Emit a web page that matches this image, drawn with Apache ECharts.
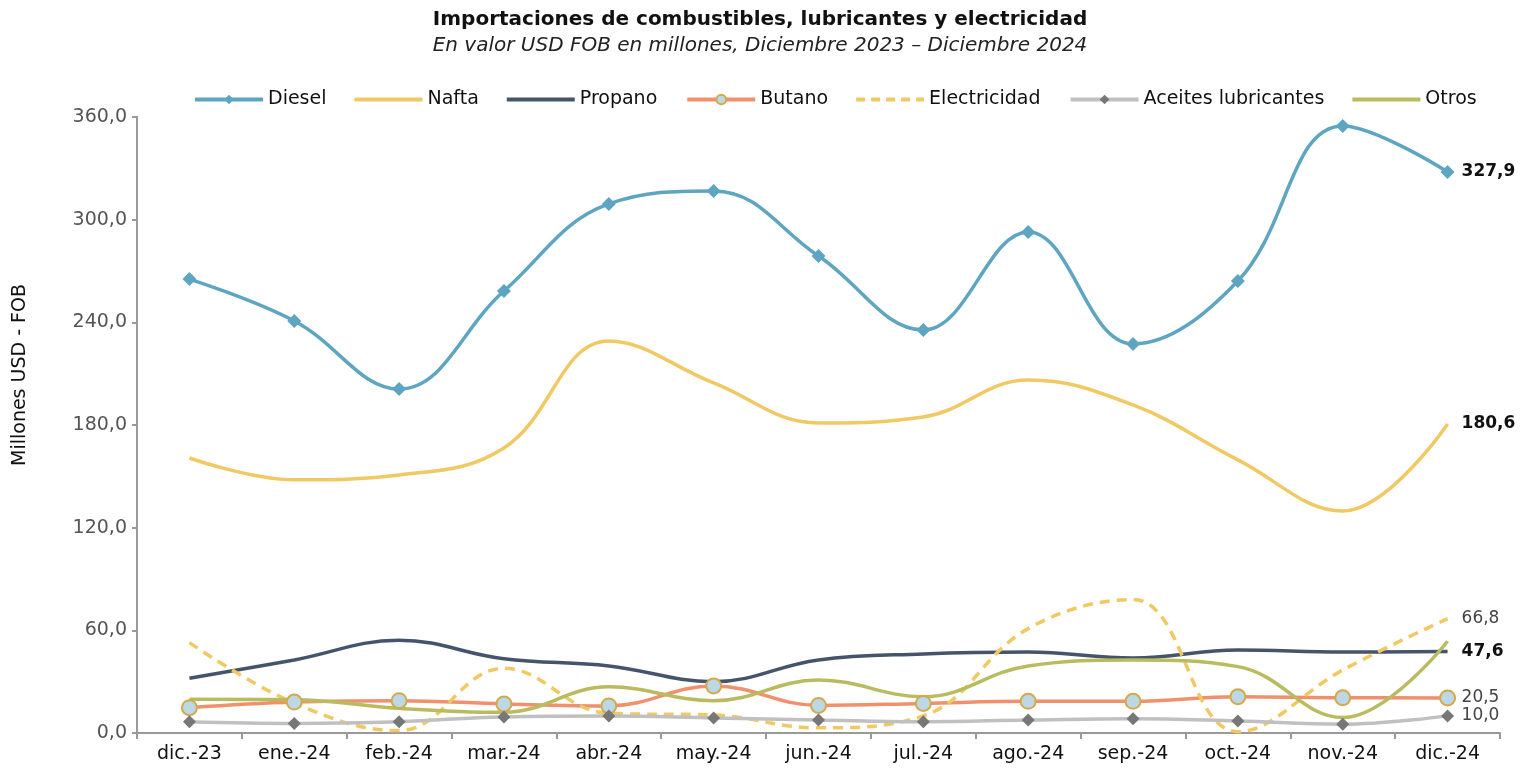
<!DOCTYPE html>
<html>
<head>
<meta charset="utf-8">
<script src="https://cdn.jsdelivr.net/npm/echarts@6/dist/echarts.min.js"></script>
<style>
	html, body { margin: 0; padding: 0; background: #fff; }
	#chart { width: 1520px; height: 768px; }
</style>
</head>
<body>
<div id="chart"></div>
<script>
	// datos (millones USD FOB)
	var meses = ['dic.-23', 'ene.-24', 'feb.-24', 'mar.-24', 'abr.-24', 'may.-24', 'jun.-24', 'jul.-24', 'ago.-24', 'sep.-24', 'oct.-24', 'nov.-24', 'dic.-24'];
	var diesel = [265.3, 240.8, 201.0, 258.3, 309.2, 316.8, 278.8, 235.5, 292.8, 227.4, 264.2, 354.8, 327.9];
	var nafta = [160.7, 148.0, 150.8, 166.6, 229.1, 204.6, 181.2, 184.7, 206.3, 191.7, 159.6, 129.7, 180.6];
	var propano = [32.0, 42.7, 54.2, 43.4, 39.2, 30.0, 42.7, 46.2, 47.3, 43.8, 48.5, 47.3, 47.6];
	var butano = [14.8, 18.1, 18.9, 17.0, 15.8, 27.5, 16.1, 17.3, 18.5, 18.5, 21.2, 20.6, 20.5];
	var electricidad = [52.8, 17.5, 1.4, 37.8, 11.5, 10.5, 3.0, 10.0, 61.0, 78.0, 0.8, 36.8, 66.8];
	var aceites = [6.6, 5.6, 6.6, 9.4, 9.9, 8.8, 7.6, 6.6, 7.6, 8.4, 7.0, 5.1, 10.0];
	var otros = [19.7, 19.5, 14.4, 12.1, 27.0, 18.9, 31.0, 21.2, 39.2, 42.7, 38.8, 9.0, 53.6];
	var yTicks = [0, 60, 120, 180, 240, 300, 360];

	var fontBase = '"DejaVu Sans", "Noto Sans", sans-serif';
	var myChart = echarts.init(document.getElementById('chart'));

	// iconos de leyenda
	var iconLinea = 'path://M0,0h68v4h-68z';
	var iconTrazos = 'path://M0,0h9v4h-9z M15,0h9v4h-9z M30,0h9v4h-9z M45,0h9v4h-9z M60,0h8v4h-8z';

	function fmt(v) {
		return v.toFixed(1).replace('.', ',');
	}

	function endLbl(color, weight) {
		return {
			show: true,
			distance: 14,
			formatter: function(p) { return fmt(p.value); },
			color: color,
			fontSize: 17,
			fontWeight: weight,
			fontFamily: fontBase
		};
	}

	function serie(name, data, color, opts) {
		var s = {
			name: name,
			type: 'line',
			data: data,
			smooth: 0.4,
			symbol: 'none',
			lineStyle: { color: color, width: 3.5 },
			itemStyle: { color: color },
			emphasis: { disabled: true }
		};
		for (var k in opts) s[k] = opts[k];
		return s;
	}

	var option = {
		backgroundColor: '#fff',
		animation: false,
		title: {
			text: 'Importaciones de combustibles, lubricantes y electricidad',
			subtext: 'En valor USD FOB en millones, Diciembre 2023 – Diciembre 2024',
			left: 'center',
			top: 5,
			itemGap: 6,
			textStyle: { fontSize: 20, fontWeight: 'bold', color: '#111', fontFamily: fontBase },
			subtextStyle: { fontSize: 20, fontStyle: 'italic', color: '#222', fontFamily: fontBase }
		},
		legend: {
			top: 85,
			left: 188,
			itemWidth: 68,
			itemHeight: 12,
			itemGap: 28,
			lineStyle: { width: 4 },
			textStyle: { fontSize: 19, color: '#111', fontFamily: fontBase },
			data: [
				{ name: 'Diesel' },
				{ name: 'Nafta', icon: iconLinea },
				{ name: 'Propano', icon: iconLinea },
				{ name: 'Butano' },
				{ name: 'Electricidad', icon: iconTrazos },
				{ name: 'Aceites lubricantes' },
				{ name: 'Otros', icon: iconLinea }
			]
		},
		grid: {
			left: 137,
			right: 20,
			top: 117,
			bottom: 35
		},
		xAxis: {
			type: 'category',
			data: meses,
			boundaryGap: true,
			axisLine: { lineStyle: { color: '#999', width: 2 } },
			axisTick: { show: true, length: 6, lineStyle: { color: '#999', width: 2 } },
			axisLabel: { fontSize: 19, color: '#111', margin: 12, fontFamily: fontBase }
		},
		yAxis: {
			type: 'value',
			min: 0,
			max: 360,
			interval: 60,
			axisLine: { show: true, lineStyle: { color: '#999', width: 2 } },
			axisTick: { show: true, length: 5, lineStyle: { color: '#999', width: 2 } },
			splitLine: { show: false },
			axisLabel: {
				fontSize: 19,
				color: '#555',
				margin: 10,
				fontFamily: fontBase,
				formatter: function(v) { return yTicks.indexOf(v) >= 0 ? fmt(v) : ''; }
			}
		},
		graphic: [{
			type: 'text',
			left: 11,
			top: 284,
			rotation: Math.PI / 2,
			style: {
				text: 'Millones USD - FOB',
				fontSize: 19,
				fill: '#111',
				fontFamily: fontBase
			}
		}],
		series: [
			serie('Diesel', diesel, '#5ea5c2', {
				symbol: 'diamond',
				symbolSize: 14,
				endLabel: endLbl('#111', 'bold')
			}),
			serie('Nafta', nafta, '#f0c964', {
				endLabel: endLbl('#111', 'bold')
			}),
			serie('Propano', propano, '#44546a', {
				endLabel: endLbl('#111', 'bold')
			}),
			serie('Butano', butano, '#f0906c', {
				symbol: 'circle',
				symbolSize: 15,
				itemStyle: { color: '#bcd8e4', borderColor: '#d4a94c', borderWidth: 2 },
				endLabel: endLbl('#444', 'normal')
			}),
			serie('Electricidad', electricidad, '#f0c964', {
				lineStyle: { color: '#f0c964', width: 3.5, type: [10, 7] },
				endLabel: endLbl('#444', 'normal')
			}),
			serie('Aceites lubricantes', aceites, '#c0c0c0', {
				symbol: 'diamond',
				symbolSize: 13,
				itemStyle: { color: '#777' },
				endLabel: endLbl('#444', 'normal')
			}),
			serie('Otros', otros, '#b9bb5f', {})
		]
	};
	myChart.setOption(option);
</script>
</body>
</html>
